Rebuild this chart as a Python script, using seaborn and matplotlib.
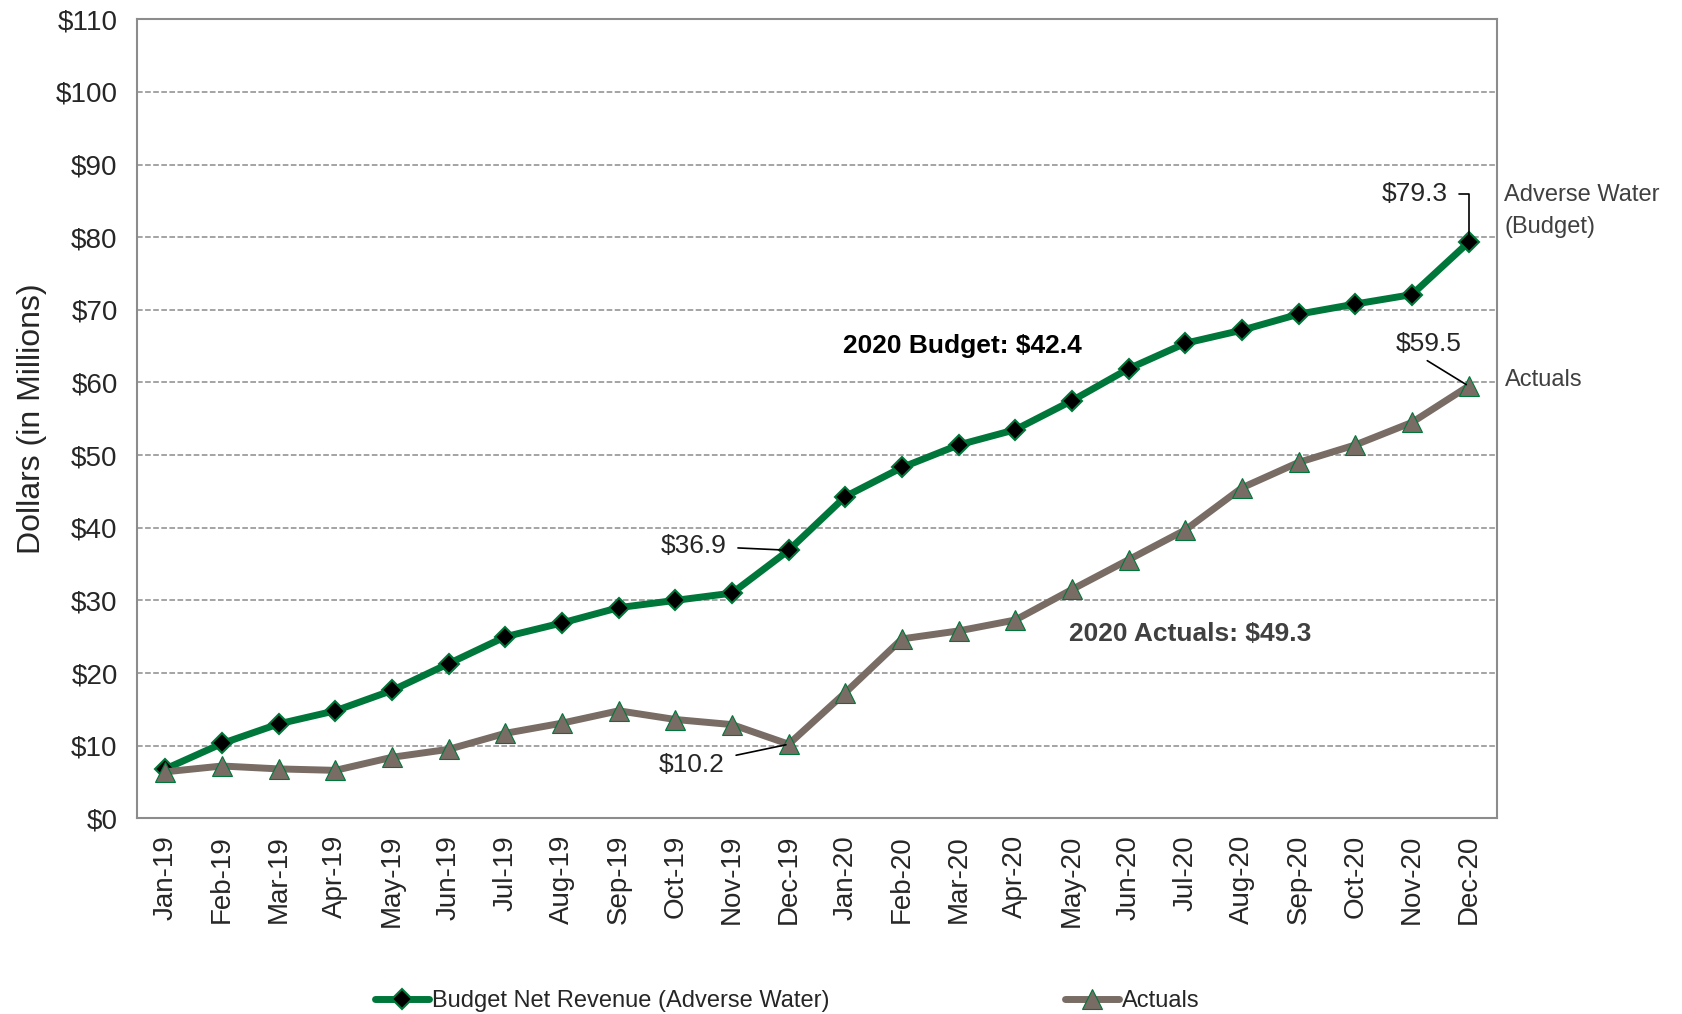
import pandas as pd
import numpy as np
import matplotlib.pyplot as plt
import seaborn as sns

# Monthly cumulative net revenue ($ millions)
months = ["Jan-19", "Feb-19", "Mar-19", "Apr-19", "May-19", "Jun-19", "Jul-19", "Aug-19",
          "Sep-19", "Oct-19", "Nov-19", "Dec-19", "Jan-20", "Feb-20", "Mar-20", "Apr-20",
          "May-20", "Jun-20", "Jul-20", "Aug-20", "Sep-20", "Oct-20", "Nov-20", "Dec-20"]
budget = [6.8, 10.3, 13.0, 14.8, 17.6, 21.3, 25.0, 26.9, 29.0, 30.0, 31.0, 36.9,
          44.3, 48.3, 51.4, 53.5, 57.5, 61.9, 65.4, 67.2, 69.4, 70.8, 72.1, 79.3]
actuals = [6.4, 7.2, 6.8, 6.6, 8.4, 9.5, 11.7, 13.1, 14.8, 13.6, 12.9, 10.2,
           17.3, 24.7, 25.8, 27.3, 31.5, 35.6, 39.7, 45.5, 49.0, 51.4, 54.5, 59.5]
yticks = list(range(0, 111, 10))

green = "#00773A"
gray = "#786C64"
text_gray = "#404040"

df = pd.DataFrame({"month": months, "idx": range(len(months)),
                   "budget": budget, "actuals": actuals})

sns.set_style("white")
plt.rcParams["font.family"] = ["Liberation Sans", "DejaVu Sans"]

fig = plt.figure(figsize=(16.82, 10.14), dpi=100)
ax = fig.add_axes([0.0815, 0.193, 0.8085, 0.788])

sns.lineplot(data=df, x="idx", y="budget", ax=ax, color=green, linewidth=5,
             marker="D", markersize=10, markerfacecolor="black",
             markeredgecolor=green, markeredgewidth=1.5,
             label="Budget Net Revenue (Adverse Water)")
sns.lineplot(data=df, x="idx", y="actuals", ax=ax, color=gray, linewidth=5,
             marker="^", markersize=15, markerfacecolor=gray,
             markeredgecolor=green, markeredgewidth=0.8,
             label="Actuals")

ax.set_xlim(-0.5, len(months) - 0.5)
ax.set_ylim(0, 110)
ax.set_yticks(yticks)
ax.set_yticklabels([f"${v}" for v in yticks], fontsize=20)
ax.set_xticks(range(len(months)))
ax.set_xticklabels(months, rotation=90, fontsize=20)
ax.set_xlabel("")
ax.set_ylabel("Dollars (in Millions)", fontsize=23, labelpad=6)
ax.yaxis.grid(True, linestyle="--", color="#8C8C8C", linewidth=1.1)
for s in ax.spines.values():
    s.set_color("#8C8C8C")
    s.set_linewidth(1.5)
ax.tick_params(axis="y", length=0, pad=14)
ax.tick_params(axis="x", length=0, pad=12)

# value callouts
line = dict(arrowstyle="-", color="black", lw=1.2, shrinkA=6, shrinkB=2)
ax.annotate("$36.9", xy=(11, budget[11]), xytext=(9.9, 37.5), fontsize=19,
            ha="right", va="center", arrowprops=line)
ax.annotate("$10.2", xy=(11, actuals[11]), xytext=(9.87, 7.4), fontsize=19,
            ha="right", va="center", arrowprops=line)
ax.annotate("$79.3", xy=(23, budget[23]), xytext=(22.63, 86.0), fontsize=19,
            ha="right", va="center",
            arrowprops=dict(arrowstyle="-", color="black", lw=1.2, shrinkA=6, shrinkB=4,
                            connectionstyle="angle,angleA=0,angleB=90,rad=0"))
ax.text(22.3, 65.3, "$59.5", fontsize=19, ha="center", va="center")
ax.annotate("", xy=(23, actuals[23]), xytext=(22.27, 63.0),
            arrowprops=dict(arrowstyle="-", color="black", lw=1.2, shrinkA=0, shrinkB=2))

ax.text(14.07, 65.0, "2020 Budget: $42.4", fontsize=19, fontweight="bold",
        ha="center", va="center", color="black")
ax.text(18.09, 25.4, "2020 Actuals: $49.3", fontsize=19, fontweight="bold",
        ha="center", va="center", color=text_gray)

# series labels to the right of the plot
ax.text(1.0055, 83.6 / 110, "Adverse Water\n(Budget)", transform=ax.transAxes,
        fontsize=17, color=text_gray, va="center", ha="left", linespacing=1.6)
ax.text(1.0055, 60.4 / 110, "Actuals", transform=ax.transAxes,
        fontsize=17, color=text_gray, va="center", ha="left")

ax.get_legend().remove()
handles, labels = ax.get_legend_handles_labels()
fig.legend(handles, labels, loc="center", bbox_to_anchor=(0.468, 13 / 1014),
           ncol=2, frameon=False, fontsize=17, handlelength=2.3,
           handletextpad=0.1, columnspacing=10.0)

fig.savefig("out.png", dpi=100)
